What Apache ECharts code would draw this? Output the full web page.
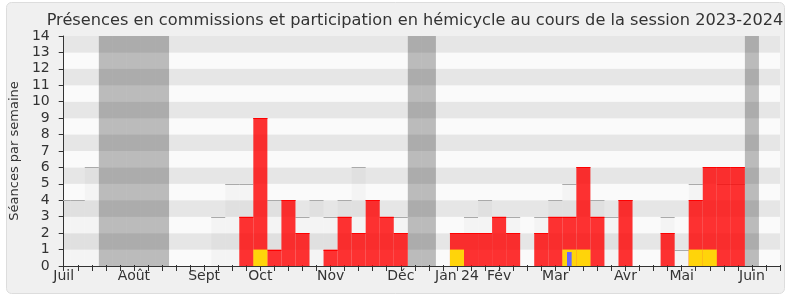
<!DOCTYPE html>
<html>
<head>
<meta charset="utf-8">
<script src="https://cdn.jsdelivr.net/npm/echarts@6/dist/echarts.min.js"></script>
<style>
html,body{margin:0;padding:0;background:#ffffff;}
#chart{width:790px;height:300px;}
</style>
</head>
<body>
<div id="chart"></div>
<script>
// ---- data (one value per week, week index 0..51) ----
const titleText = 'Présences en commissions et participation en hémicycle au cours de la session 2023-2024';
const yAxisName = 'Séances par semaine';
const monthLabels = ['Juil', 'Août', 'Sept', 'Oct', 'Nov', 'Déc', 'Jan 24', 'Fév', 'Mar', 'Avr', 'Mai', 'Juin'];
const monthLabelWeeks = [0, 5, 10, 14, 19, 24, 28, 31, 35, 40, 44, 49];
const vacationWeeks = [3, 4, 5, 6, 7, 25, 26, 49];
// light gray steps: commission presence
const commission = [4, 4, 6, 0, 0, 0, 0, 0, 0, 0, 0, 3, 5, 5, 9, 4, 4, 3, 4, 3, 4, 6, 4, 3, 3, 0,
                    0, 0, 2, 3, 4, 3, 3, 0, 3, 4, 5, 6, 4, 3, 4, 0, 0, 3, 1, 5, 6, 5, 5, 0, 0, 0];
// red: hemicycle participation
const hemicycle  = [0, 0, 0, 0, 0, 0, 0, 0, 0, 0, 0, 0, 0, 3, 9, 1, 4, 2, 0, 1, 3, 2, 4, 3, 2, 0,
                    0, 0, 2, 2, 2, 3, 2, 0, 2, 3, 3, 6, 3, 0, 4, 0, 0, 2, 0, 4, 6, 6, 6, 0, 0, 0];
// yellow
const yellowVals = [0, 0, 0, 0, 0, 0, 0, 0, 0, 0, 0, 0, 0, 0, 1, 0, 0, 0, 0, 0, 0, 0, 0, 0, 0, 0,
                    0, 0, 1, 0, 0, 0, 0, 0, 0, 0, 1, 1, 0, 0, 0, 0, 0, 0, 0, 1, 1, 0, 0, 0, 0, 0];
// blue
const blueVals   = [0, 0, 0, 0, 0, 0, 0, 0, 0, 0, 0, 0, 0, 0, 0, 0, 0, 0, 0, 0, 0, 0, 0, 0, 0, 0,
                    0, 0, 0, 0, 0, 0, 0, 0, 0, 0, 0.85, 0, 0, 0, 0, 0, 0, 0, 0, 0, 0, 0, 0, 0, 0, 0];
const yTicks = [0, 14, 1]; // min, max, interval
const weekMin = 0, weekMax = 51;

const FONT = '"DejaVu Sans", sans-serif';

function barRender(fill, lineColor, widthFrac) {
  return function (params, api) {
    const k = api.value(0), v = api.value(1);
    if (!v) return null;
    const p0 = api.coord([k - widthFrac / 2, 0]);
    const p1 = api.coord([k + widthFrac / 2, v]);
    const children = [{
      type: 'rect',
      shape: {x: p0[0], y: p1[1], width: p1[0] - p0[0], height: p0[1] - p1[1]},
      style: {fill: fill}
    }];
    if (lineColor) {
      children.push({
        type: 'line',
        shape: {x1: p0[0], y1: Math.round(p1[1]) + 0.5, x2: p1[0], y2: Math.round(p1[1]) + 0.5},
        style: {stroke: lineColor, lineWidth: 1}
      });
    }
    return {type: 'group', children: children};
  };
}

const toPairs = arr => arr.map((v, i) => [i, v]);

const chart = echarts.init(document.getElementById('chart'), null, {renderer: 'canvas'});
chart.setOption({
  animation: false,
  textStyle: {fontFamily: FONT},
  graphic: [{
    type: 'rect', z: -10, silent: true,
    shape: {x: 6.5, y: 2.5, width: 778, height: 291, r: 5},
    style: {fill: '#f0f0f0', stroke: '#dddddd', lineWidth: 1}
  }],
  title: {
    text: titleText,
    left: 410, top: 8, textAlign: 'center',
    textStyle: {fontFamily: FONT, fontSize: 16.2, fontWeight: 'normal', color: '#333333'}
  },
  grid: {left: 61, right: 10, top: 36, bottom: 34, containLabel: false},
  xAxis: [{
    type: 'value', min: weekMin, max: weekMax, interval: 1,
    axisLine: {show: true, onZero: false, lineStyle: {color: '#333333', width: 1}},
    axisTick: {show: true, length: 5, lineStyle: {color: '#333333'}},
    axisLabel: {
      show: true, margin: 3, fontSize: 14, color: '#333333', fontFamily: FONT,
      formatter: function (v) {
        const i = monthLabelWeeks.indexOf(Math.round(v));
        return i >= 0 ? monthLabels[i] : '';
      }
    },
    splitLine: {show: false}
  }, {
    type: 'value', position: 'top', min: weekMin, max: weekMax, interval: 1,
    axisLine: {show: false},
    axisTick: {show: true, length: 1, lineStyle: {color: '#333333'}},
    axisLabel: {show: false},
    splitLine: {show: false}
  }],
  yAxis: {
    type: 'value', min: yTicks[0], max: yTicks[1], interval: yTicks[2],
    name: yAxisName, nameLocation: 'middle', nameGap: 40,
    nameTextStyle: {fontSize: 13, color: '#333333', fontFamily: FONT},
    axisLine: {show: true, lineStyle: {color: '#333333', width: 1}},
    axisTick: {show: true, length: 5, lineStyle: {color: '#333333'}},
    axisLabel: {margin: 14, fontSize: 14, color: '#333333', fontFamily: FONT},
    splitLine: {show: false},
    splitArea: {show: true, areaStyle: {color: ['#fafafa', '#e6e6e6']}}
  },
  series: [{
    type: 'custom', name: 'vacances', clip: true,
    renderItem: barRender('rgba(0,0,0,0.25)', null, 1),
    data: vacationWeeks.map(k => [k, yTicks[1]])
  }, {
    type: 'custom', name: 'commission', clip: true,
    renderItem: barRender('rgba(0,0,0,0.025)', '#aaaaaa', 1),
    data: toPairs(commission)
  }, {
    type: 'custom', name: 'hemicycle', clip: true,
    renderItem: barRender('rgba(255,0,0,0.8)', '#ff0000', 1),
    data: toPairs(hemicycle)
  }, {
    type: 'custom', name: 'jaune', clip: true,
    renderItem: barRender('#ffd40a', null, 1),
    data: toPairs(yellowVals)
  }, {
    type: 'custom', name: 'bleu', clip: true,
    renderItem: barRender('#6666ff', null, 1 / 3),
    data: toPairs(blueVals)
  }]
});
</script>
</body>
</html>
